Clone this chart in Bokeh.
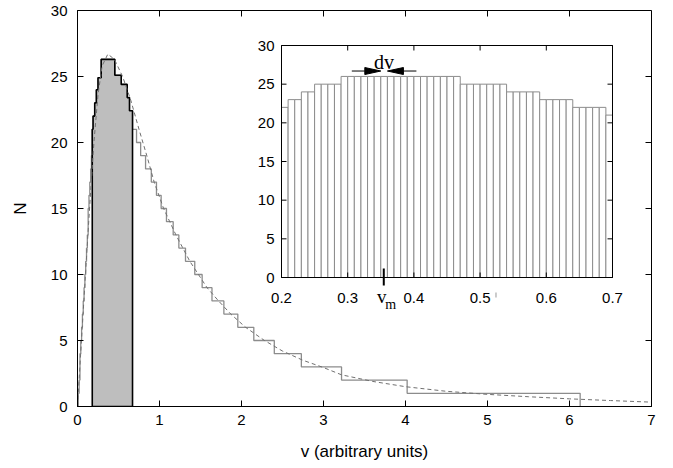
import math
from bokeh.plotting import figure
from bokeh.models import Range1d, FixedTicker
from bokeh.core.properties import value
from bokeh.embed import file_html
from bokeh.resources import INLINE

# ---------------- data ----------------
# main histogram: bin edges and counts (step outline)
main_edges = [0.00, 0.01, 0.02, 0.03, 0.04, 0.05, 0.06, 0.07, 0.08, 0.09,
              0.10, 0.11, 0.12, 0.13, 0.14, 0.15, 0.16, 0.17, 0.18, 0.19,
              0.21, 0.23, 0.25, 0.289, 0.455, 0.533, 0.606, 0.634, 0.671, 0.72,
              0.77, 0.83, 0.90, 0.963, 1.02, 1.085, 1.167, 1.236, 1.317, 1.43,
              1.52, 1.64, 1.785, 1.955, 2.15, 2.40, 2.73, 3.22, 4.02, 6.13]
main_counts = [0, 1, 2, 4, 5, 6, 7, 8, 9, 10,
               11, 12, 13, 15, 16, 17, 18, 19, 21, 22,
               23, 24, 24.9, 26.3, 25.1, 24.4, 23.4, 22.4, 21, 20,
               19, 18, 17, 16, 15, 14, 13, 12, 11, 10,
               9, 8, 7, 6, 5, 4, 3, 2, 1]
# highlighted (filled) part of the main histogram
fill_start = 0.18
fill_end = 0.671

# smooth reference distribution (dashed)
curve_v = [0.00, 0.05, 0.10, 0.15, 0.20, 0.25, 0.30, 0.37, 0.45, 0.55,
           0.65, 0.75, 0.85, 0.935, 1.05, 1.20, 1.37, 1.58, 1.72, 1.87,
           2.05, 2.28, 2.50, 2.75, 3.00, 3.22, 3.60, 4.00, 4.50, 5.00,
           5.50, 6.00, 6.50, 7.00]
curve_n = [0.0, 5.2, 10.3, 15.3, 20.0, 23.6, 25.8, 26.7, 26.3, 25.0,
           23.2, 21.0, 18.9, 17.0, 15.0, 13.0, 11.0, 9.0, 8.0, 7.0,
           6.0, 5.0, 4.2, 3.5, 2.95, 2.4, 1.9, 1.5, 1.15, 0.92,
           0.74, 0.58, 0.45, 0.33]

main_xticks = [0, 1, 2, 3, 4, 5, 6, 7]
main_yticks = [0, 5, 10, 15, 20, 25, 30]

# inset: fine histogram, bin width dv
inset_start = 0.20
inset_dv = 0.01
inset_counts = [22, 23, 23, 24, 24, 25, 25, 25, 25, 26,
                26, 26, 26, 26, 26, 26, 26, 26, 26, 26,
                26, 26, 26, 26, 26, 26, 26, 25, 25, 25,
                25, 25, 25, 25, 24, 24, 24, 24, 24, 23,
                23, 23, 23, 23, 22, 22, 22, 22, 22, 21]
inset_xticks = [0.2, 0.3, 0.4, 0.5, 0.6, 0.7]
inset_xlabels = ["0.2", "0.3", "0.4", "0.5", "0.6", "0.7"]
inset_yticks = [0, 5, 10, 15, 20, 25, 30]
inset_ylabels = ["0", "5", "10", "15", "20", "25", "30"]
v_m = 0.3545
v_mark2 = 0.524
dv_bin_left = 0.35
dv_y = 26.7

SANS = "Liberation Sans"
SERIF = "Liberation Serif"

# ---------------- geometry (page pixels) ----------------
W, H = 665, 467
B_LEFT, B_RIGHT, B_TOP, B_BOTTOM = 77, 14, 10, 61
FL = B_LEFT              # frame left (px)
FR = W - B_RIGHT         # frame right
FT = B_TOP               # frame top
FB = H - B_BOTTOM        # frame bottom
X0, X1, Y0, Y1 = 0, 7, 0, 30


def px2x(px):
    return X0 + (px - FL) / (FR - FL) * (X1 - X0)


def py2y(py):
    return Y0 + (FB - py) / (FB - FT) * (Y1 - Y0)


# inset frame (px)
IL, IR, IT, IB = 281, 612, 45, 277
IX0, IX1, IY0, IY1 = 0.2, 0.7, 0, 30


def stairs(edges, counts):
    xs, ys = [edges[0]], [0]
    for i, c in enumerate(counts):
        xs += [edges[i], edges[i + 1]]
        ys += [c, c]
    xs.append(edges[-1])
    ys.append(0)
    return xs, ys


# ---------------- main figure ----------------
p = figure(width=W, height=H, x_range=Range1d(X0, X1), y_range=Range1d(Y0, Y1),
           output_backend="svg", toolbar_location=None,
           min_border_left=B_LEFT, min_border_right=B_RIGHT,
           min_border_top=B_TOP, min_border_bottom=B_BOTTOM)
p.grid.visible = False
p.outline_line_color = "black"
p.background_fill_color = "white"

for ax, ticks in ((p.xaxis[0], main_xticks), (p.yaxis[0], main_yticks)):
    ax.ticker = FixedTicker(ticks=ticks)
    ax.major_tick_in = 6
    ax.major_tick_out = 0
    ax.minor_tick_line_color = None
    ax.axis_line_color = "black"
    ax.major_tick_line_color = "black"
    ax.major_label_text_font = SANS
    ax.major_label_text_font_size = "15px"
    ax.major_label_text_color = "black"
    ax.axis_label_text_font = SANS
    ax.axis_label_text_font_size = "17px"
    ax.axis_label_text_font_style = "normal"
    ax.axis_label_text_color = "black"
p.xaxis[0].axis_label = "v (arbitrary units)"
p.yaxis[0].axis_label = "N"
p.xaxis[0].major_label_standoff = 8
p.xaxis[0].axis_label_standoff = 14
p.yaxis[0].major_label_standoff = 10
p.yaxis[0].axis_label_standoff = 18

# mirror ticks on top and right
p.ray(x=main_xticks, y=Y1, length=6, length_units="screen", angle=-math.pi / 2,
      line_color="black", line_width=1)
p.ray(x=X1, y=main_yticks, length=6, length_units="screen", angle=math.pi,
      line_color="black", line_width=1)

# full outline (gray)
sx, sy = stairs(main_edges, main_counts)
p.line(sx, sy, line_color="#8c8c8c", line_width=1.3)

# filled highlighted region
i0 = main_edges.index(fill_start)
i1 = main_edges.index(fill_end)
fx, fy = stairs(main_edges[i0:i1 + 1], main_counts[i0:i1])
p.patch(fx, fy, fill_color="#bebebe", line_color="black", line_width=1.6)

# dashed smooth curve
p.line(curve_v, curve_n, line_color="#707070", line_width=1, line_dash="4 3")

# ---------------- inset (sub-coordinates inside main plot) ----------------
sub = p.subplot(
    x_source=Range1d(IX0, IX1), y_source=Range1d(IY0, IY1),
    x_target=Range1d(px2x(IL), px2x(IR)), y_target=Range1d(py2y(IB), py2y(IT)),
)

# background + bars
sub.quad(left=IX0, right=IX1, bottom=IY0, top=IY1, fill_color="white", line_color=None)
lefts = [inset_start + inset_dv * i for i in range(len(inset_counts))]
rights = [l + inset_dv for l in lefts]
sub.quad(left=lefts, right=rights, bottom=0, top=inset_counts,
         fill_color="white", line_color="#8c8c8c", line_width=1)
# frame
sub.quad(left=IX0, right=IX1, bottom=IY0, top=IY1, fill_color=None, line_color="black", line_width=1)

# ticks (inside, all four sides)
sub.ray(x=inset_xticks, y=IY0, length=5, length_units="screen", angle=math.pi / 2, line_color="black")
sub.ray(x=inset_xticks, y=IY1, length=5, length_units="screen", angle=-math.pi / 2, line_color="black")
sub.ray(x=IX0, y=inset_yticks, length=5, length_units="screen", angle=0, line_color="black")
sub.ray(x=IX1, y=inset_yticks, length=5, length_units="screen", angle=math.pi, line_color="black")

# tick labels
sub.text(x=inset_xticks, y=IY0, text=inset_xlabels, y_offset=20,
         text_font=value(SANS), text_font_size="15px", text_align="center",
         text_baseline="middle", text_color="black")
sub.text(x=IX0, y=inset_yticks, text=inset_ylabels, x_offset=-7,
         text_font=value(SANS), text_font_size="15px", text_align="right",
         text_baseline="middle", text_color="black")

# dv arrows
ux = (IX1 - IX0) / (IR - IL)   # data units per px (x)
uy = (IY1 - IY0) / (IB - IT)   # data units per px (y)
head_len, head_half = 16 * ux, 3.5 * uy
left_tip = dv_bin_left
right_tip = dv_bin_left + inset_dv
sub.segment(x0=[left_tip - 29 * ux, right_tip + 29 * ux], y0=dv_y,
            x1=[left_tip - head_len, right_tip + head_len], y1=dv_y,
            line_color="black", line_width=1)
sub.patches(xs=[[left_tip, left_tip - head_len, left_tip - head_len],
                [right_tip, right_tip + head_len, right_tip + head_len]],
            ys=[[dv_y, dv_y + head_half, dv_y - head_half],
                [dv_y, dv_y + head_half, dv_y - head_half]],
            fill_color="black", line_color="black")
sub.text(x=[(left_tip + right_tip) / 2], y=[dv_y], text=["dv"], y_offset=-9,
         text_font=value(SERIF), text_font_size="20px", text_align="center",
         text_baseline="middle", text_color="black")

# v_m marker
sub.segment(x0=[v_m], y0=[IY0 + 9 * uy], x1=[v_m], y1=[IY0 - 8 * uy], line_color="black", line_width=2)
sub.segment(x0=[v_mark2], y0=[IY0 - 15 * uy], x1=[v_mark2], y1=[IY0 - 20 * uy],
            line_color="#999999", line_width=1)
sub.text(x=[v_m], y=[IY0], text=["v"], x_offset=-2, y_offset=19,
         text_font=value(SERIF), text_font_size="19px", text_align="center",
         text_baseline="middle", text_color="black")
sub.text(x=[v_m], y=[IY0], text=["m"], x_offset=7, y_offset=27,
         text_font=value(SERIF), text_font_size="14px", text_align="center",
         text_baseline="middle", text_color="black")

open("out.html", "w").write(file_html(p, INLINE))
